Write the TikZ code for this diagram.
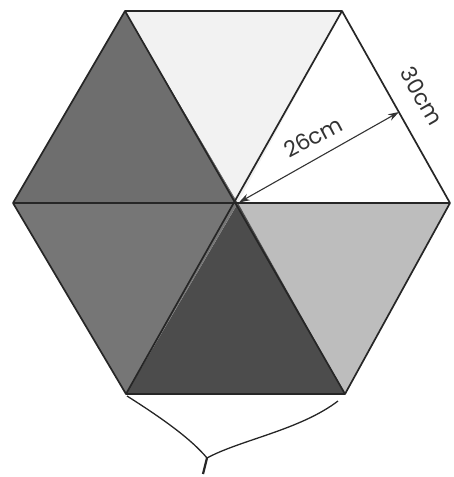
\documentclass[tikz,border=0pt]{standalone}
\usepackage{fontspec}
\setmainfont{Poppins}
\usetikzlibrary{arrows.meta}
\definecolor{gA}{HTML}{6E6E6E}
\definecolor{gB}{HTML}{F2F2F2}
\definecolor{gC}{HTML}{FFFFFF}
\definecolor{gD}{HTML}{BDBDBD}
\definecolor{gE}{HTML}{4C4C4C}
\definecolor{gF}{HTML}{767676}
\tikzset{
  edge/.style={line width=1.7pt, line join=round, draw=black!85},
  lbl/.style={font=\fontsize{22}{22}\selectfont, text=black!80, inner sep=0pt},
  dim/.style={line width=1.1pt, draw=black!80, {Stealth[length=11pt,width=7pt]}-{Stealth[length=11pt,width=7pt]}},
  thin/.style={line width=1.3pt, draw=black!85}
}
\begin{document}
\begin{tikzpicture}[x=1pt,y=-1pt]
\useasboundingbox (0,0) rectangle (454,477);
\coordinate (C) at (238,203);
\coordinate (TL) at (125,11);
\coordinate (TR) at (342,11);
\coordinate (R) at (450,203);
\coordinate (BR) at (345,394);
\coordinate (BL) at (126,394);
\coordinate (L) at (13,203);
\coordinate (F) at (399,112);
\coordinate (K) at (207,458);
\coordinate (Ke) at (203,474);
\coordinate (Bl2) at (127,396);
\coordinate (Br2) at (338,401);
% fills
\fill[gA] (TL) -- (C) -- (L) -- cycle;
\fill[gB] (TL) -- (TR) -- (C) -- cycle;
\fill[gC] (TR) -- (R) -- (C) -- cycle;
\fill[gD] (R) -- (BR) -- (C) -- cycle;
\fill[gE] (BR) -- (BL) -- (C) -- cycle;
\fill[gF] (BL) -- (L) -- (C) -- cycle;
% edges
\draw[edge] (TL) -- (TR) -- (R) -- (BR) -- (BL) -- (L) -- cycle;
\draw[edge] (TL) -- (BR);
\draw[edge] (TR) -- (BL);
\draw[edge] (L) -- (R);
% dimension
\draw[dim, shorten <=1pt] (C) -- (F);
\node[lbl, rotate=28] (t26) at (313,137) {26cm};
\node[lbl, rotate=-60] (t30) at (422,96) {30cm};
% handle
\draw[thin] (Bl2) .. controls (165,420) and (192,440) .. (K);
\draw[thin] (Br2) .. controls (300,430) and (240,440) .. (K);
\draw[line width=2.2pt, draw=black!85] (K) -- (Ke);
\end{tikzpicture}
\end{document}
